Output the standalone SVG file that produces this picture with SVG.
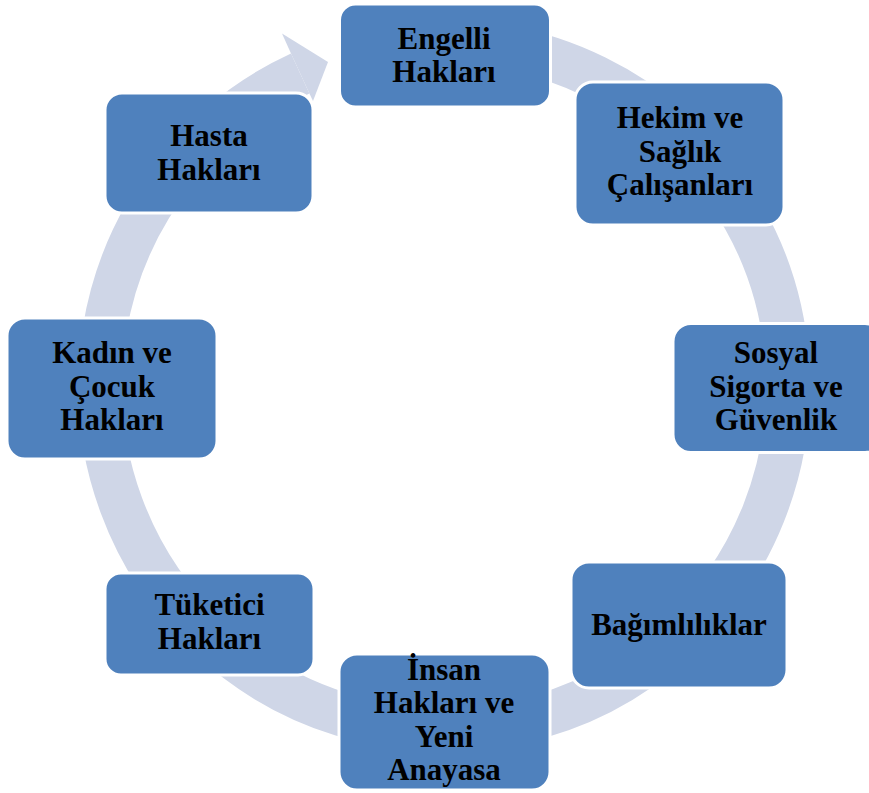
<svg xmlns="http://www.w3.org/2000/svg" width="869" height="793" viewBox="0 0 869 793">
<style>
.box{fill:#4F81BD;stroke:#FFFFFF;stroke-width:3}
.t{font-family:"Liberation Serif","Times New Roman",serif;font-weight:bold;font-size:31px;fill:#000000;text-anchor:middle}
.ring{fill:none;stroke:#CFD6E7;stroke-width:44}
</style>
<rect width="869" height="793" fill="#FFFFFF"/>
<g id="connectors">
<path class="ring" d="M444 42 A344 344 0 1 1 300.2 73.5"/>
<polygon points="291,53.5 282,33.5 328,62 313,101 309.4,93.5" fill="#CFD6E7"/>
</g>
<g id="n1"><rect class="box" x="339.5" y="4" width="211" height="103" rx="16"/>
<text class="t" x="444" y="49">Engelli</text><text class="t" x="444" y="82">Hakları</text></g>
<g id="n2"><rect class="box" x="575" y="82" width="209" height="143" rx="18"/>
<text class="t" x="680" y="128">Hekim ve</text><text class="t" x="680" y="162">Sağlık</text><text class="t" x="680" y="195">Çalışanları</text></g>
<g id="n3"><rect class="box" x="673" y="323.5" width="210" height="129" rx="18"/>
<text class="t" x="776" y="363">Sosyal</text><text class="t" x="776" y="397">Sigorta ve</text><text class="t" x="776" y="430">Güvenlik</text></g>
<g id="n4"><rect class="box" x="571" y="562" width="216" height="126" rx="18"/>
<text class="t" x="679" y="635">Bağımlılıklar</text></g>
<g id="n5"><rect class="box" x="339" y="654" width="211" height="136" rx="18"/>
<text class="t" x="444" y="680">İnsan</text><text class="t" x="444" y="713">Hakları ve</text><text class="t" x="444" y="747">Yeni</text><text class="t" x="444" y="780">Anayasa</text></g>
<g id="n6"><rect class="box" x="105" y="573" width="209" height="102" rx="16"/>
<text class="t" x="209.5" y="615">Tüketici</text><text class="t" x="209.5" y="649">Hakları</text></g>
<g id="n7"><rect class="box" x="7" y="318" width="210" height="141" rx="18"/>
<text class="t" x="112" y="363">Kadın ve</text><text class="t" x="112" y="397">Çocuk</text><text class="t" x="112" y="430">Hakları</text></g>
<g id="n8"><rect class="box" x="105" y="93" width="208" height="120" rx="17"/>
<text class="t" x="209" y="146">Hasta</text><text class="t" x="209" y="180">Hakları</text></g>
</svg>
